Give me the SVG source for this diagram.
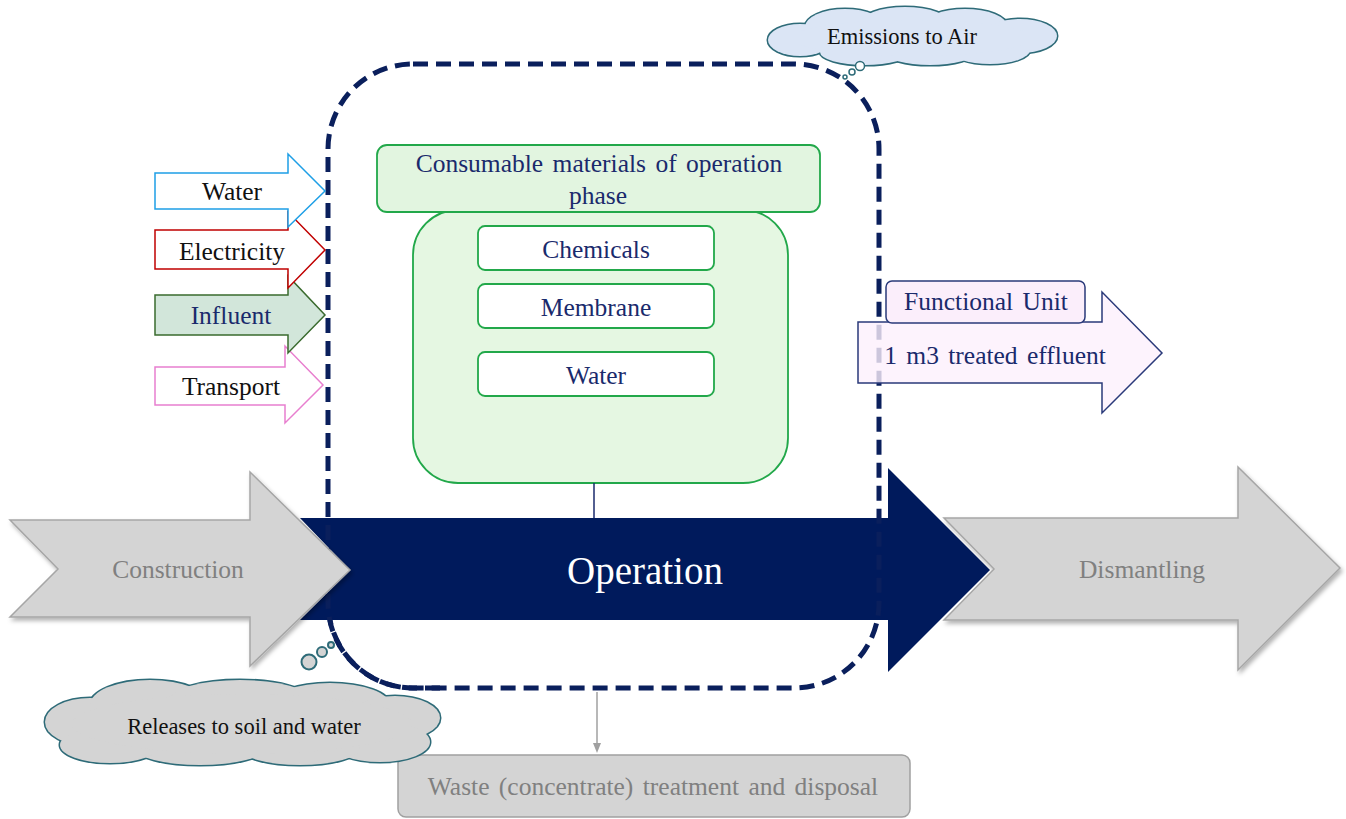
<svg xmlns="http://www.w3.org/2000/svg" width="1346" height="819" viewBox="0 0 1346 819">
<defs>
<style>
text{font-family:"Liberation Serif","Times New Roman",serif;text-anchor:middle;}
.in{font-size:25.5px;fill:#111;}
.nv{font-size:25.5px;fill:#1a2a6c;}
.gt{font-size:25.5px;fill:#808080;}
.ws{word-spacing:3px;}
.gray{fill:#d4d4d4;stroke:#a6a6a6;stroke-width:1.5;}
.wbox{fill:#ffffff;stroke:#22a84a;stroke-width:1.8;}
.cloudE{fill:#dbe5f5;}
.cloudR{fill:#d4d4d4;}
</style>
<filter id="sh" x="-5%" y="-5%" width="115%" height="120%">
<feDropShadow dx="2" dy="3" stdDeviation="2" flood-color="#000" flood-opacity="0.3"/>
</filter>
<marker id="ah" markerWidth="10" markerHeight="10" refX="5" refY="5" orient="auto" markerUnits="userSpaceOnUse">
<path d="M0,1 L10,5 L0,9 z" fill="#a0a0a0"/>
</marker>
</defs>
<rect width="1346" height="819" fill="#ffffff"/>

<g id="operation">
<polygon points="300,518 888,518 888,468 990,570 888,672 888,620 300,620 350,570" fill="#001a5c"/>
<text x="645" y="584" font-size="39" fill="#ffffff">Operation</text>
</g>

<g id="dismantling">
<polygon class="gray" points="944,518 1238,518 1238,467 1340,568 1238,670 1238,620 944,620 994,569" filter="url(#sh)"/>
<text class="gt" x="1142" y="578">Dismantling</text>
</g>

<g id="boundary">
<rect x="328" y="64" width="551" height="624" rx="85" ry="85" fill="none" stroke="#0a1f5c" stroke-width="5" stroke-dasharray="15,8"/>
</g>

<g id="construction">
<polygon class="gray" points="10,520 250,520 250,472 350,570 250,666 250,617 10,617 58,569" filter="url(#sh)"/>
<text class="gt" x="178" y="578">Construction</text>
</g>

<g id="transport">
<polygon points="155,367 285,367 285,346 323,385 285,423 285,405 155,405" fill="#ffffff" stroke="#e87fcf" stroke-width="1.5"/>
<text class="in" x="231" y="395">Transport</text>
</g>
<g id="influent">
<polygon points="155,295 288,295 288,276 325,315 288,353 288,335 155,335" fill="#d2e6da" stroke="#3a6b2e" stroke-width="1.5"/>
<text class="nv" x="231" y="324">Influent</text>
</g>
<g id="electricity">
<polygon points="155,230 288,230 288,212 325,250 288,288 288,269 155,269" fill="#ffffff" stroke="#c00000" stroke-width="1.5"/>
<text class="in" x="232" y="260">Electricity</text>
</g>
<g id="water-in">
<polygon points="155,173 288,173 288,154 325,191 288,227 288,209 155,209" fill="#ffffff" stroke="#1e9fe6" stroke-width="1.5"/>
<text class="in" x="232" y="200">Water</text>
</g>

<g id="consumables">
<rect x="413" y="210" width="375" height="273" rx="45" fill="#e5f7e2" stroke="#22a84a" stroke-width="1.8"/>
<rect x="377" y="145" width="443" height="67" rx="10" fill="#e2f5e0" stroke="#22a84a" stroke-width="1.8"/>
<text class="nv ws" x="599" y="172">Consumable materials of operation</text>
<text class="nv" x="598" y="204">phase</text>
</g>
<g id="chemicals">
<rect class="wbox" x="478" y="226" width="236" height="44" rx="7"/>
<text class="nv" x="596" y="258">Chemicals</text>
</g>
<g id="membrane">
<rect class="wbox" x="478" y="284" width="236" height="44" rx="7"/>
<text class="nv" x="596" y="316">Membrane</text>
</g>
<g id="water-c">
<rect class="wbox" x="478" y="352" width="236" height="44" rx="7"/>
<text class="nv" x="596" y="384">Water</text>
</g>

<g id="functional-unit">
<polygon points="858,322 1102,322 1102,292 1162,353 1102,413 1102,383 858,383" fill="#fcf0fc" fill-opacity="0.8" stroke="#2a3a7a" stroke-width="1.5"/>
<rect x="886" y="281" width="199" height="42" rx="6" fill="#fbeefb" stroke="#2a3a7a" stroke-width="1.5"/>
<text class="nv ws" x="986" y="310">Functional Unit</text>
<text class="nv ws" x="995" y="364">1 m3 treated effluent</text>
</g>

<g id="emissions">
<g fill="none" stroke="#2e6b78" stroke-width="3">
<ellipse cx="800" cy="40" rx="32" ry="16"/>
<ellipse cx="845" cy="27" rx="40" ry="18"/>
<ellipse cx="905" cy="24" rx="45" ry="17"/>
<ellipse cx="965" cy="26" rx="42" ry="17"/>
<ellipse cx="1020" cy="36" rx="37" ry="17"/>
<ellipse cx="990" cy="50" rx="40" ry="14"/>
<ellipse cx="930" cy="52" rx="45" ry="13"/>
<ellipse cx="865" cy="52" rx="45" ry="13"/>
</g>
<g class="cloudE">
<ellipse cx="800" cy="40" rx="32" ry="16"/>
<ellipse cx="845" cy="27" rx="40" ry="18"/>
<ellipse cx="905" cy="24" rx="45" ry="17"/>
<ellipse cx="965" cy="26" rx="42" ry="17"/>
<ellipse cx="1020" cy="36" rx="37" ry="17"/>
<ellipse cx="990" cy="50" rx="40" ry="14"/>
<ellipse cx="930" cy="52" rx="45" ry="13"/>
<ellipse cx="865" cy="52" rx="45" ry="13"/>
<ellipse cx="912" cy="38" rx="120" ry="18"/>
</g>
<g fill="#ffffff" stroke="#2e6b78" stroke-width="1.5">
<circle cx="845" cy="77" r="2"/>
<circle cx="852" cy="72" r="3"/>
<circle cx="860" cy="66" r="4.5"/>
</g>
<text x="902" y="44" font-size="22.5" fill="#111">Emissions to Air</text>
</g>

<g id="waste">
<rect x="398" y="755" width="512" height="62" rx="8" fill="#d4d4d4" stroke="#a0a0a0" stroke-width="1.5"/>
<text class="gt ws" x="653" y="795">Waste (concentrate) treatment and disposal</text>
</g>

<g id="releases">
<g fill="none" stroke="#2e6b78" stroke-width="3">
<ellipse cx="90" cy="722" rx="45" ry="24"/>
<ellipse cx="150" cy="705" rx="60" ry="25"/>
<ellipse cx="240" cy="700" rx="70" ry="20"/>
<ellipse cx="330" cy="705" rx="60" ry="22"/>
<ellipse cx="395" cy="718" rx="45" ry="22"/>
<ellipse cx="380" cy="742" rx="50" ry="20"/>
<ellipse cx="300" cy="748" rx="60" ry="17"/>
<ellipse cx="200" cy="748" rx="65" ry="17"/>
<ellipse cx="110" cy="745" rx="50" ry="18"/>
</g>
<g class="cloudR">
<ellipse cx="90" cy="722" rx="45" ry="24"/>
<ellipse cx="150" cy="705" rx="60" ry="25"/>
<ellipse cx="240" cy="700" rx="70" ry="20"/>
<ellipse cx="330" cy="705" rx="60" ry="22"/>
<ellipse cx="395" cy="718" rx="45" ry="22"/>
<ellipse cx="380" cy="742" rx="50" ry="20"/>
<ellipse cx="300" cy="748" rx="60" ry="17"/>
<ellipse cx="200" cy="748" rx="65" ry="17"/>
<ellipse cx="110" cy="745" rx="50" ry="18"/>
<ellipse cx="242" cy="724" rx="170" ry="30"/>
</g>
<g fill="#d4d4d4" stroke="#2e6b78" stroke-width="2">
<circle cx="309" cy="662" r="7.5"/>
<circle cx="322" cy="652" r="5"/>
<circle cx="331" cy="645" r="3"/>
</g>
<text x="244" y="734" font-size="22.5" fill="#111">Releases to soil and water</text>
</g>

<g id="connectors">
<line x1="594" y1="483" x2="594" y2="518" stroke="#1a2a6c" stroke-width="1.5"/>
<line x1="597" y1="692" x2="597" y2="748" stroke="#a0a0a0" stroke-width="1.5" marker-end="url(#ah)"/>
</g>
<g id="boundary-overlay">
<path d="M440,688 L413,688 A85,85 0 0 1 330,620" fill="none" stroke="#0a1f5c" stroke-width="5" stroke-dasharray="15,8"/>
</g>
</svg>
